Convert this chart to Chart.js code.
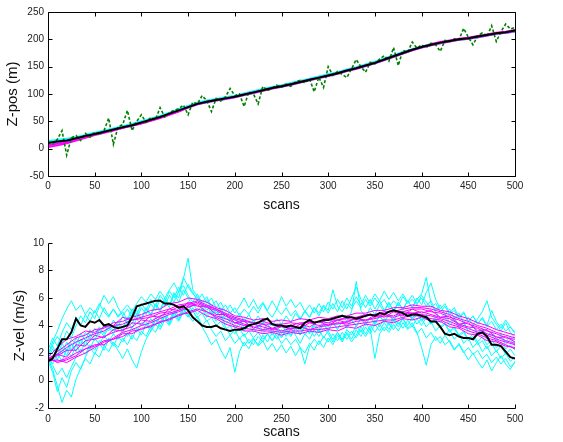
<!DOCTYPE html>
<html>
<head>
<meta charset="utf-8">
<title>Z-pos / Z-vel</title>
<script src="https://cdn.jsdelivr.net/npm/chart.js@4.4.1/dist/chart.umd.min.js"></script>
<style>
  html, body { margin: 0; padding: 0; background: #fff; }
  #wrap { position: relative; width: 563px; height: 442px; }
  canvas { position: absolute; left: 0; }
  #posChart { top: 0; }
  #velChart { top: 221px; }
</style>
</head>
<body>
<div id="wrap">
  <canvas id="posChart" width="563" height="221"></canvas>
  <canvas id="velChart" width="563" height="221"></canvas>
</div>
<script>
// ---------- data ----------
// position plot: sampled every 10 scans (green measurements every 5)
const posTruth = [11,13,15,19,23,27,31,35,39,43, 48,53,58,64,70,76,82,86,89,92,
  95,99,103,107,111,114,118,122,126,130, 134,138,143,147,152,157,163,169,175,181,
  186,190,194,197,200,202,205,208,211,213, 216];
const posMagA = [3,6,10,15,20,25,29,33,38,42, 46,51,56,62,68,75,81,85,88,91,
  94,98,102,106,110,113,117,121,125,129, 133,137,142,146,151,156,162,168,174,180,
  185,189,193,196,199,201,204,207,210,212, 215];
const posMagB = [6,9,12,17,21,26,30,34,38,43, 47,52,57,63,69,76,82,86,89,92,
  95,99,103,107,111,114,118,122,126,130, 134,138,143,147,152,157,163,169,175,181,
  186,191,195,198,201,203,206,209,212,214, 217];
const posCyanA = [14,16,18,21,25,29,33,37,41,45, 50,55,60,66,72,78,84,88,91,94,
  97,101,105,109,113,116,120,124,128,132, 136,140,145,149,154,159,165,171,177,182,
  187,191,194,197,199,201,204,207,210,212, 214];
const posCyanB = [9,12,14,18,22,26,30,34,38,42, 47,52,57,63,69,75,81,85,88,91,
  94,98,102,106,110,113,117,121,125,129, 133,137,142,146,151,156,162,168,174,180,
  185,189,193,196,199,201,204,207,210,212, 215];
const posMeas = [12,8,17,33,-12,20,24,15,28,21, 30,25,33,56,8,40,44,70,33,50,
  62,48,57,53,75,58,66,70,73,80, 62,85,82,97,88,68,92,87,95,110,
  97,100,77,104,100,82,114,106,111,116, 112,118,114,122,125,120,128,104,131,112,
  150,134,141,136,130,146,163,150,140,158, 155,164,170,160,185,152,180,176,195,184,
  190,185,193,190,178,198,196,201,199,220, 204,190,206,212,205,225,196,214,228,219,
  222];

// velocity plot: truth + cyan runs every 5 scans, magenta runs every 10
const velTruth = [1.4,1.6,2.3,3.0,3.0,3.5,4.5,4.0,3.9,4.3, 4.2,4.4,4.0,4.1,3.9,3.8,3.9,4.0,4.6,5.4,
  5.5,5.6,5.7,5.8,5.8,5.6,5.6,5.5,5.3,5.4, 5.1,4.6,4.3,4.0,3.9,3.9,4.0,3.8,3.7,3.6,
  3.7,3.7,3.8,4.0,4.1,4.2,4.4,4.5,4.1,4.0, 4.0,3.9,4.0,3.9,3.8,4.2,4.4,4.2,4.3,4.4,
  4.4,4.5,4.6,4.7,4.6,4.6,4.5,4.6,4.7,4.8, 4.7,4.9,4.8,5.0,5.1,5.0,4.9,4.7,4.8,4.8,
  4.7,4.6,4.3,4.3,3.9,3.4,3.3,3.4,3.2,3.1, 3.1,3.0,3.4,3.5,3.2,2.6,2.6,2.5,2.1,1.7,
  1.6];

const velCyan1 = [1.9,2.8,3.6,4.5,5.2,5.8,5.1,5.5,4.8,5.3, 4.9,5.6,5.0,4.6,5.2,4.7,5.1,5.5,5.0,5.6,
  6.1,5.7,6.3,5.9,6.5,6.0,6.6,7.1,6.4,7.5, 6.8,6.3,6.0,5.7,6.1,5.4,5.8,5.1,5.5,4.9,
  5.3,4.7,5.2,4.8,5.4,4.9,5.6,5.0,4.6,5.2, 4.8,5.3,4.7,5.1,4.5,5.0,4.6,5.3,4.9,5.5,
  5.1,6.6,5.4,5.0,5.6,5.2,5.8,5.3,5.9,5.4, 6.0,5.5,5.9,5.3,5.8,5.4,6.1,5.6,5.9,5.5,
  6.2,5.7,5.3,5.6,5.0,5.4,4.8,5.1,4.5,4.9, 4.3,4.7,4.1,4.5,3.9,4.3,3.7,4.1,3.6,3.9, 3.4];
const velCyan2 = [1.6,0.8,-0.4,-1.6,-0.7,-1.2,0.1,0.9,1.6,1.2, 2.0,1.7,2.5,2.1,2.8,2.4,3.1,2.6,3.3,2.9,
  3.6,3.2,3.9,3.5,4.2,4.6,4.1,4.9,4.4,5.2, 4.8,4.3,4.7,4.0,4.4,3.7,3.2,3.6,2.9,3.3,
  2.7,3.1,2.5,3.0,2.6,3.2,2.8,3.4,2.9,3.3, 2.7,3.1,2.6,3.0,2.4,1.2,2.5,3.0,2.6,3.2,
  2.8,3.4,2.9,3.5,3.0,3.6,3.1,3.7,3.2,3.8, 1.6,3.4,3.9,3.5,4.1,3.6,4.2,3.7,4.0,3.4,
  3.8,3.1,3.5,2.9,3.2,2.6,2.9,2.3,2.6,2.0, 2.4,1.9,2.2,1.6,1.9,1.3,1.7,1.2,1.6,1.0, 1.3];
const velCyan3 = [2.0,2.5,1.8,2.7,2.1,3.0,2.6,3.4,2.9,3.7, 3.2,3.9,3.4,4.1,3.6,4.3,3.8,4.6,4.1,4.9,
  4.4,5.2,4.7,5.5,5.0,5.8,5.3,6.4,6.0,7.4, 8.9,6.6,6.1,5.5,5.9,5.2,4.8,5.1,4.4,4.7,
  4.1,4.5,3.8,4.3,3.7,4.2,3.6,4.1,3.5,4.0, 3.4,3.9,3.3,3.8,3.4,4.0,3.5,4.2,3.7,4.4,
  3.9,4.6,4.1,4.8,4.3,5.0,7.2,5.1,4.6,5.3, 4.8,5.5,5.0,5.6,5.1,5.7,5.2,5.8,5.3,5.9,
  6.3,7.5,5.6,5.0,4.5,4.9,4.2,4.6,3.9,4.3, 3.6,4.0,3.3,3.7,3.0,3.4,2.8,3.2,2.6,3.0, 2.5];
const velCyan4 = [1.5,1.1,0.4,0.9,0.2,1.0,1.7,2.3,1.9,2.6, 2.2,2.9,2.5,3.1,2.7,2.2,1.6,2.3,1.5,0.9,
  2.1,3.0,3.6,4.1,3.7,4.4,4.0,4.7,4.3,5.0, 4.6,5.1,4.5,3.9,3.3,2.6,3.0,2.2,1.6,2.4,
  0.6,2.1,2.8,2.3,3.0,2.6,3.3,2.8,3.5,3.0, 3.7,3.2,3.8,3.3,2.7,3.4,3.0,3.7,3.2,3.8,
  3.4,2.8,3.5,3.0,3.7,3.3,4.0,3.5,4.2,3.7, 4.4,3.9,4.5,4.0,4.6,4.1,4.5,3.8,4.2,3.5,
  2.4,1.1,2.6,3.2,2.7,3.3,2.8,2.2,2.7,2.1, 1.5,2.0,1.4,0.9,1.5,0.7,1.3,1.8,1.2,0.8, 1.4];
const velCyan5 = [2.2,3.1,2.5,3.5,4.2,3.7,4.6,4.0,4.8,4.3, 5.1,4.5,5.3,4.7,5.2,4.6,5.0,4.4,5.2,4.8,
  5.6,5.1,5.9,5.4,6.2,5.7,6.5,6.0,6.8,6.2, 7.0,6.4,5.8,6.3,5.6,6.0,5.3,5.7,5.0,5.5,
  4.9,5.4,6.0,5.3,5.9,5.2,5.7,5.1,5.8,5.2, 6.1,5.4,5.9,5.3,5.7,5.0,5.5,4.9,5.6,5.0,
  5.7,5.2,5.9,5.3,6.0,5.4,6.1,5.5,6.2,5.6, 6.3,5.8,6.5,5.9,6.4,5.8,6.3,5.7,6.2,5.6,
  6.0,5.4,5.8,5.1,5.5,4.8,5.2,4.5,4.9,4.2, 4.6,4.0,4.5,5.0,5.8,4.6,4.1,3.6,4.2,3.5, 3.1];
const velCyan6 = [1.7,1.2,2.0,1.4,2.3,1.7,2.6,2.0,2.9,2.3, 3.1,2.6,3.3,2.8,3.4,3.0,3.7,3.2,3.9,3.5,
  4.2,3.8,4.5,4.0,4.7,4.3,5.0,4.6,5.3,4.9, 5.5,5.0,4.6,4.9,4.3,4.6,4.0,4.3,3.7,4.0,
  3.4,3.8,3.2,3.6,3.1,3.5,3.0,3.4,2.9,3.5, 3.1,3.6,3.2,3.8,3.3,3.9,3.4,4.0,3.5,4.1,
  3.6,4.2,3.7,4.3,3.8,4.4,3.9,4.5,4.0,4.6, 4.1,4.7,4.2,4.8,4.3,4.9,4.4,5.0,4.5,5.0,
  4.4,4.8,4.1,4.5,3.8,4.1,3.5,3.8,3.2,3.5, 2.9,3.2,2.6,2.9,2.3,2.7,2.1,2.5,1.9,2.3, 1.8];
const velCyan7 = [1.8,2.6,3.2,2.7,3.6,3.1,4.0,4.7,4.2,5.0, 4.5,5.4,6.2,5.6,6.1,5.3,4.7,5.2,4.6,5.1,
  4.5,5.3,4.8,5.6,5.1,6.0,5.5,6.3,5.7,6.6, 6.0,5.4,5.9,5.1,5.5,4.8,5.2,4.5,4.9,4.2,
  4.6,4.0,4.5,3.9,4.4,3.8,4.3,3.7,4.2,3.6, 4.1,3.5,4.0,3.4,3.9,3.3,3.8,3.2,3.7,3.1,
  3.6,3.0,3.5,2.9,3.4,2.8,3.3,3.9,3.4,4.0, 3.5,4.1,3.6,4.2,3.7,4.3,3.8,4.4,3.9,4.5,
  4.0,4.6,4.1,4.7,4.2,4.6,4.0,4.4,3.8,4.2, 3.6,4.0,3.4,3.8,3.2,3.6,3.0,3.4,2.8,3.2, 2.7];
const velCyan8 = [1.4,0.6,-0.8,0.2,-0.5,0.7,1.3,0.8,1.7,2.4, 1.9,2.7,2.2,3.0,2.5,3.2,2.8,3.5,3.0,3.8,
  3.3,4.1,3.6,4.4,3.9,4.7,4.2,5.0,4.5,5.2, 4.7,5.3,4.8,5.2,4.6,5.0,4.3,4.7,3.9,3.3,
  3.7,3.0,3.4,2.7,3.1,2.5,2.9,2.2,2.7,2.1, 2.6,2.0,2.5,1.8,2.4,2.0,2.7,2.2,2.9,2.4,
  3.1,2.6,3.3,2.8,3.5,3.0,3.7,3.2,3.9,3.4, 4.1,3.6,4.2,3.7,4.4,3.9,4.5,4.0,4.6,4.1,
  4.5,3.9,4.3,3.6,4.0,3.3,3.7,3.0,3.4,2.7, 3.1,2.4,2.8,2.1,2.5,1.8,2.2,1.6,2.0,1.4, 1.7];
const velCyan9 = [2.1,1.6,2.4,1.9,2.8,2.2,3.1,2.6,3.5,3.0, 3.8,3.3,4.1,3.6,4.4,3.9,4.7,4.2,5.0,4.5,
  5.3,4.8,5.6,5.1,5.9,5.4,6.2,5.7,6.5,6.9, 6.2,5.7,6.3,5.6,5.1,5.5,4.9,5.3,4.6,5.0,
  4.4,4.9,4.3,4.8,4.2,4.7,4.1,4.6,4.0,4.5, 4.1,4.7,4.2,4.9,4.4,5.1,4.6,5.3,4.7,5.4,
  4.9,5.6,5.0,5.8,5.2,6.0,6.8,5.9,5.3,5.9, 5.2,5.8,5.1,5.7,5.0,5.6,5.1,5.8,5.3,6.0,
  5.5,6.4,7.1,5.9,5.2,5.6,4.9,5.3,4.6,5.0, 4.3,4.7,4.1,4.6,4.0,5.1,4.3,3.8,4.4,3.9, 3.5];
const velCyan10 = [1.6,2.3,1.5,2.4,1.8,2.7,2.1,3.0,2.5,3.4, 2.9,3.7,3.2,3.9,3.4,4.1,3.6,4.3,3.8,4.5,
  4.0,4.3,3.8,4.6,4.2,4.9,4.4,5.1,4.7,5.4, 5.0,5.6,5.1,5.4,4.8,5.1,4.5,4.8,4.1,4.5,
  3.8,4.2,3.6,4.0,3.5,3.9,3.4,3.8,3.3,3.7, 3.2,3.7,3.3,3.8,3.4,3.9,3.5,4.0,3.6,4.1,
  3.7,4.2,3.8,4.3,3.9,4.4,4.0,4.5,4.1,4.6, 4.2,4.7,4.3,4.8,4.4,4.9,4.5,4.9,4.4,4.8,
  4.3,4.7,4.1,4.5,3.9,4.2,3.6,3.9,3.3,3.6, 3.0,3.4,2.8,3.2,2.6,3.0,2.4,2.8,2.3,2.6, 2.2];

const velMag1 = [1.5,2.1,2.6,3.1,3.3,3.7,3.8,4.2,4.3,4.6, 4.8,5.1,5.2,5.6,5.7,6.0,5.9,5.7,5.3,5.1,
  4.7,4.6,4.4,4.5,4.3,4.4,4.3,4.5,4.4,4.6, 4.5,4.7,4.7,4.9,4.9,5.1,5.1,5.3,5.3,5.5,
  5.4,5.4,5.1,5.0,4.7,4.5,4.2,4.0,3.7,3.5, 3.3];
const velMag2 = [1.7,1.3,1.5,1.8,2.3,2.5,2.9,3.0,3.4,3.4, 3.8,3.9,4.3,4.4,4.8,4.9,5.1,4.7,4.5,4.1,
  3.9,3.6,3.6,3.4,3.5,3.3,3.5,3.4,3.6,3.5, 3.7,3.6,3.9,3.8,4.1,4.0,4.3,4.2,4.5,4.4,
  4.6,4.3,4.3,3.9,3.8,3.4,3.3,2.9,2.8,2.5, 2.4];
const velMag3 = [1.6,1.9,1.7,2.6,2.5,3.3,3.1,3.7,3.6,4.2, 4.1,4.7,4.6,5.2,5.1,5.7,5.4,5.4,4.8,4.8,
  4.2,4.3,3.8,4.1,3.8,4.0,3.7,4.1,3.9,4.3, 4.0,4.4,4.2,4.6,4.3,4.8,4.6,5.0,4.7,5.2,
  4.9,5.1,4.6,4.7,4.1,4.2,3.6,3.7,3.1,3.2, 2.8];
const velMag4 = [1.5,1.4,1.6,2.0,2.3,2.6,2.6,3.1,3.5,3.7, 4.0,4.2,4.5,4.8,5.0,5.3,5.6,5.3,5.1,4.7,
  4.4,4.1,3.9,3.7,3.8,3.6,3.8,3.9,3.7,3.9, 4.0,4.2,4.1,4.3,4.4,4.5,4.7,4.6,4.8,4.9,
  4.8,4.7,4.5,4.3,4.0,3.8,3.5,3.3,3.0,2.8, 2.6];
const velMag5 = [1.7,2.4,3.0,3.2,3.6,3.5,3.9,4.0,4.1,4.4, 4.5,4.6,4.9,5.0,5.4,5.5,5.7,5.4,5.2,4.8,
  4.5,4.3,4.2,4.1,4.1,4.0,4.0,4.2,4.2,4.3, 4.2,4.4,4.5,4.4,4.7,4.8,4.9,5.1,5.0,5.2,
  5.2,5.0,4.9,4.6,4.4,4.1,3.9,3.6,3.4,3.1, 3.0];
const velMag6 = [1.6,1.8,2.2,2.2,2.9,3.0,3.2,3.5,3.7,3.9, 4.4,4.3,4.7,4.9,5.1,5.4,5.5,5.0,4.7,4.5,
  4.2,4.0,4.1,3.9,3.7,3.9,3.8,3.8,4.2,4.0, 4.1,4.1,4.3,4.5,4.4,4.6,4.8,4.7,5.0,4.9,
  5.0,4.8,4.6,4.5,4.1,3.9,3.8,3.4,3.2,2.9, 2.7];
const velMag7 = [1.6,1.9,2.4,2.8,3.1,3.4,3.6,4.0,4.6,4.4, 4.6,4.8,5.0,5.2,5.5,5.6,5.8,5.5,5.2,4.9,
  4.6,4.4,4.2,4.3,4.1,4.1,4.2,4.1,4.3,4.2, 4.4,4.4,4.6,4.6,4.8,4.8,5.0,5.0,5.2,5.3,
  5.3,5.2,5.0,4.8,4.5,4.3,4.0,3.8,3.5,3.3, 3.1];
const velMag8 = [1.4,1.5,1.3,1.7,2.0,2.4,2.8,3.0,3.2,3.6, 3.7,4.0,4.2,4.5,4.7,5.0,5.2,5.0,4.6,4.3,
  4.0,3.8,3.7,3.6,3.6,3.5,3.6,3.6,3.7,3.7, 3.8,3.9,4.0,4.1,4.2,4.3,4.4,4.4,4.6,4.7,
  4.7,4.5,4.4,4.1,3.9,3.6,3.4,3.1,2.9,2.6, 2.3];

const velCyanRuns = [velCyan1, velCyan2, velCyan3, velCyan4, velCyan5, velCyan6, velCyan7, velCyan8, velCyan9, velCyan10];
const velMagRuns = [velMag1, velMag2, velMag3, velMag4, velMag5, velMag6, velMag7, velMag8];

// ---------- helpers ----------
const CYAN = "#00ffff";
const MAGENTA = "#ff00ff";
const TICK_FONT = { family: "'Liberation Sans', Arial, Helvetica, sans-serif", size: 10 };
const TITLE_FONT = { family: "'Liberation Sans', Arial, Helvetica, sans-serif", size: 14 };

// value i of an array sampled every `step` scans sits at scan i*step
const onScans = (arr, step) => arr.map((v, i) => ({ x: i * step, y: v }));

const lineSet = (data, color, width, order, extra) => Object.assign({
  data, borderColor: color, borderWidth: width, pointRadius: 0,
  tension: 0, fill: false, order
}, extra || {});

// matlab-like axes: inward ticks, optional full box
const matlabAxes = {
  id: "matlabAxes",
  afterDraw(chart, args, opts) {
    const { ctx, chartArea: a, scales: { x, y } } = chart;
    const L = Math.round(a.left) + 0.5, R = Math.round(a.right) + 0.5;
    const T = Math.round(a.top) + 0.5, B = Math.round(a.bottom) + 0.5;
    const len = 4;
    ctx.save();
    ctx.strokeStyle = "#000";
    ctx.lineWidth = 1;
    ctx.beginPath();
    ctx.moveTo(L, T); ctx.lineTo(L, B); ctx.lineTo(R, B);
    if (opts.box) { ctx.moveTo(L, T); ctx.lineTo(R, T); ctx.lineTo(R, B); }
    x.ticks.forEach((t) => {
      const px = Math.round(x.getPixelForValue(t.value)) + 0.5;
      ctx.moveTo(px, B); ctx.lineTo(px, B - len);
      if (opts.box) { ctx.moveTo(px, T); ctx.lineTo(px, T + len); }
    });
    y.ticks.forEach((t) => {
      const py = Math.round(y.getPixelForValue(t.value)) + 0.5;
      ctx.moveTo(L, py); ctx.lineTo(L + len, py);
      if (opts.box) { ctx.moveTo(R, py); ctx.lineTo(R - len, py); }
    });
    ctx.stroke();
    ctx.restore();
  }
};

const makeOptions = (cfg) => ({
  responsive: false,
  animation: false,
  devicePixelRatio: 1,
  layout: { padding: { left: 0, right: 48, top: cfg.top, bottom: 0 } },
  plugins: { legend: { display: false }, tooltip: { enabled: false }, matlabAxes: { box: cfg.box } },
  scales: {
    x: {
      type: "linear", min: 0, max: 500,
      grid: { display: false, drawTicks: false }, border: { display: false },
      ticks: { stepSize: 50, color: "#222", font: TICK_FONT, padding: cfg.xTickPad, maxRotation: 0 },
      title: { display: true, text: "scans", color: "#111", font: TITLE_FONT, padding: { top: 0, bottom: cfg.xTitlePad } },
      afterFit: (s) => { s.height = cfg.xHeight; }
    },
    y: {
      min: cfg.yMin, max: cfg.yMax,
      grid: { display: false, drawTicks: false }, border: { display: false },
      ticks: { stepSize: cfg.yStep, color: "#222", font: TICK_FONT, padding: 4 },
      title: { display: true, text: cfg.yTitle, color: "#111", font: { ...TITLE_FONT, size: 15 }, padding: { top: cfg.yTitlePad, bottom: 0 } },
      afterFit: (s) => { s.width = 48; }
    }
  }
});

// ---------- top: Z position ----------
const posSets = [
  lineSet(onScans(posCyanA, 10), CYAN, 2, 4),
  lineSet(onScans(posCyanB, 10), CYAN, 2, 4),
  lineSet(onScans(posMagA, 10), MAGENTA, 2, 3),
  lineSet(onScans(posMagB, 10), MAGENTA, 2, 3),
  lineSet(onScans(posMeas, 5), "#008000", 1.6, 1, { borderDash: [3, 2] }),
  lineSet(onScans(posTruth, 10), "#000", 2, 0)
];

new Chart(document.getElementById("posChart"), {
  type: "line",
  data: { datasets: posSets },
  options: makeOptions({ top: 12, box: true, xHeight: 45, xTickPad: 4, xTitlePad: 7,
    yMin: -50, yMax: 250, yStep: 50, yTitle: "Z-pos (m)", yTitlePad: 4 }),
  plugins: [matlabAxes]
});

// ---------- bottom: Z velocity ----------
const velSets = [];
velCyanRuns.forEach((run) => velSets.push(lineSet(onScans(run, 5), CYAN, 1, 3)));
velMagRuns.forEach((run) => velSets.push(lineSet(onScans(run, 10), MAGENTA, 1, 2)));
velSets.push(lineSet(onScans(velTruth, 5), "#000", 2, 0));

new Chart(document.getElementById("velChart"), {
  type: "line",
  data: { datasets: velSets },
  options: makeOptions({ top: 22, box: false, xHeight: 34, xTickPad: 5, xTitlePad: 1,
    yMin: -2, yMax: 10, yStep: 2, yTitle: "Z-vel (m/s)", yTitlePad: 11 }),
  plugins: [matlabAxes]
});
</script>
</body>
</html>
